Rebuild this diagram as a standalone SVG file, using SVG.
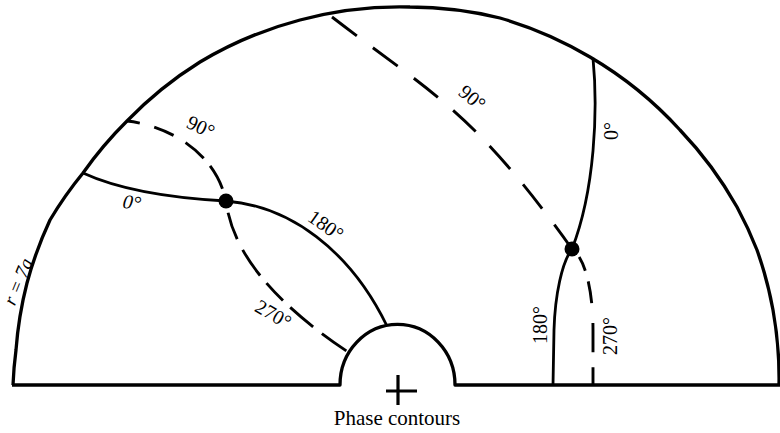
<svg xmlns="http://www.w3.org/2000/svg" width="780" height="433" viewBox="0 0 780 433">
<style>
.bd{fill:none;stroke:#000;stroke-width:3.3;stroke-linejoin:round}
.sol{fill:none;stroke:#000;stroke-width:2.8}
.dsh{fill:none;stroke:#000;stroke-width:2.9}
.lb{font-family:"Liberation Serif","Times New Roman",serif;font-size:20px;fill:#000}
.dot{fill:#000}
</style>
<rect width="780" height="433" fill="#fff"/>
<g id="boundary">
<path class="bd" d="M12,385 L340,385 A57 60 0 0 1 455,385 L780,385"/>
<path class="bd" d="M13,385 A385 385 0 0 1 16,350 A385 385 0 0 1 27,283 A385 385 0 0 1 50,220 A385 385 0 0 1 83,173 A385 385 0 0 1 127,121 A385 385 0 0 1 200,62 A385 385 0 0 1 300,20 A385 385 0 0 1 410,7 A385 385 0 0 1 500,18 A385 385 0 0 1 590,57 A385 385 0 0 1 680,130 A385 385 0 0 1 737,207 A385 385 0 0 1 757,250 A385 385 0 0 1 773,310 A385 385 0 0 1 779,385"/>
</g>
<g id="connectors">
<path id="left-0" class="sol" d="M83,173 C120,190 170,198 226,201"/>
<path id="left-180" class="sol" d="M226,201 C290,206 350,250 387,326"/>
<path id="left-90" class="dsh" stroke-dasharray="13 15 21 14 24 10 26 40" d="M127,121 C165,125 215,150 226,201"/>
<path id="left-270" class="dsh" stroke-dasharray="0 12 28 12 31 10 24 10 30 11 30 50" d="M226,201 C232,250 270,300 348,352"/>
<path id="right-90" class="dsh" stroke-dasharray="31 20" d="M332,17 C432,94 472,109 572,249"/>
<path id="right-0" class="sol" d="M593,58 C598,110 595,190 572,249"/>
<path id="right-180" class="sol" d="M572,249 C562,262 555,295 554,330 L553,385"/>
<path id="right-270" class="dsh" stroke-dasharray="0 11 15 11 22 20 29 15 40" d="M572,249 C585,258 593,290 593,330 L593,385"/>
</g>
<g id="node-left-saddle"><circle class="dot" cx="226" cy="201" r="7.5"/></g>
<g id="node-right-saddle"><circle class="dot" cx="572" cy="249" r="7.5"/></g>
<g id="node-source">
<path d="M386,391 L417,391 M398,375 L398,405" stroke="#000" stroke-width="3.2" fill="none"/>
<text class="lb" x="397" y="425" text-anchor="middle" style="font-size:21px">Phase contours</text>
</g>
<g id="labels">
<text class="lb" transform="translate(24,284) rotate(-68)" text-anchor="middle" font-style="italic" style="font-size:19px">r = 7a</text>
<text class="lb" transform="translate(198,133) rotate(25)" text-anchor="middle">90°</text>
<text class="lb" transform="translate(131,209) rotate(8)" text-anchor="middle" font-style="italic">0°</text>
<text class="lb" transform="translate(322,231) rotate(35)" text-anchor="middle">180°</text>
<text class="lb" transform="translate(270,320) rotate(30)" text-anchor="middle">270°</text>
<text class="lb" transform="translate(468,103) rotate(40)" text-anchor="middle">90°</text>
<text class="lb" transform="translate(618,131) rotate(-90)" text-anchor="middle">0°</text>
<text class="lb" transform="translate(547,325) rotate(-90)" text-anchor="middle">180°</text>
<text class="lb" transform="translate(617,336) rotate(-90)" text-anchor="middle">270°</text>
</g>
</svg>
